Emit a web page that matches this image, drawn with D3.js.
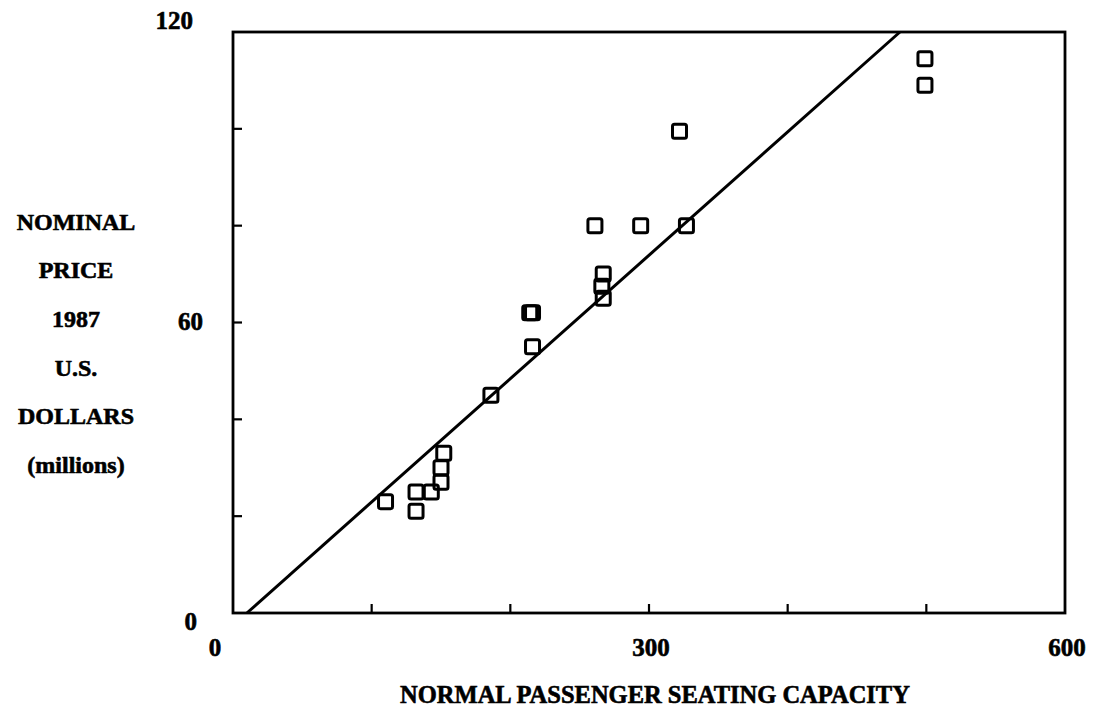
<!DOCTYPE html>
<html>
<head>
<meta charset="utf-8">
<script src="https://cdn.jsdelivr.net/npm/d3@7"></script>
<style>
    body { margin: 0; background: #fff; }
    svg { display: block; }
    text { font-family: "Liberation Serif", "Times New Roman", serif; font-weight: bold; fill: #000; stroke: #000; stroke-width: 0.6px; }
</style>
</head>
<body>
<div id="chart"></div>
<script>
// aircraft: seats vs nominal price (1987 US$ millions)
const seats = [110, 132, 132, 143, 150, 150, 152, 186, 214, 216, 216, 267, 266, 267, 261, 294, 327, 322, 499, 499];
const prices = [23, 21, 25, 25, 27, 30, 33, 45, 62, 62, 55, 65, 67.5, 70, 80, 80, 80, 99.5, 109, 114.5];

// fitted line: price = slope * seats + intercept
const fitSlope = 0.2548;
const fitIntercept = -2.55;

const xTicks = [100, 200, 300, 400, 500];
const yTicks = [20, 40, 60, 80, 100];
const xTickLabels = [0, 300, 600];
const yTickLabels = [0, 60, 120];
const yTitleLines = ["NOMINAL", "PRICE", "1987", "U.S.", "DOLLARS", "(millions)"];
const xTitle = "NORMAL PASSENGER SEATING CAPACITY";

function drawChart() {
    let dimensions = {
        width: 1096,
        height: 713,
        margin: {
            left: 233,
            right: 31,
            top: 32,
            bottom: 100,
        },
    }
    dimensions.boundedWidth = dimensions.width
        - dimensions.margin.left
        - dimensions.margin.right;
    dimensions.boundedHeight = dimensions.height
        - dimensions.margin.top
        - dimensions.margin.bottom;

    const wrapper = d3.select("#chart").append("svg")
        .attr("width", dimensions.width)
        .attr("height", dimensions.height);

    const bounds = wrapper.append("g")
        .attr("transform", `translate(${dimensions.margin.left},${dimensions.margin.top})`);

    const xScaler = d3.scaleLinear()
        .domain([0, 600])
        .range([0, dimensions.boundedWidth]);

    const yScaler = d3.scaleLinear()
        .domain([0, 120])
        .range([dimensions.boundedHeight, 0]);

    // frame
    bounds.append("rect")
        .attr("x", 0)
        .attr("y", 0)
        .attr("width", dimensions.boundedWidth)
        .attr("height", dimensions.boundedHeight)
        .attr("fill", "none")
        .attr("stroke", "black")
        .attr("stroke-width", 2.8);

    // inward ticks
    const tickLen = 9;
    bounds.append("g").selectAll("line")
        .data(xTicks)
        .enter()
        .append("line")
        .attr("x1", d => xScaler(d))
        .attr("x2", d => xScaler(d))
        .attr("y1", dimensions.boundedHeight)
        .attr("y2", dimensions.boundedHeight - tickLen)
        .attr("stroke", "black")
        .attr("stroke-width", 2.2);

    bounds.append("g").selectAll("line")
        .data(yTicks)
        .enter()
        .append("line")
        .attr("x1", 0)
        .attr("x2", tickLen)
        .attr("y1", d => yScaler(d))
        .attr("y2", d => yScaler(d))
        .attr("stroke", "black")
        .attr("stroke-width", 2.2);

    // tick labels
    const fontSize = 25;
    bounds.append("g").selectAll("text")
        .data(xTickLabels)
        .enter()
        .append("text")
        .attr("x", d => xScaler(d) + (d === 0 ? -18 : 2))
        .attr("y", dimensions.boundedHeight + 37)
        .attr("dominant-baseline", "middle")
        .attr("text-anchor", "middle")
        .attr("font-size", fontSize)
        .text(d => d);

    const yLabelShift = {0: 11, 60: 2, 120: -9};
    bounds.append("g").selectAll("text")
        .data(yTickLabels)
        .enter()
        .append("text")
        .attr("x", d => d === 0 ? -36 : (d === 60 ? -30 : -40))
        .attr("y", d => yScaler(d) + yLabelShift[d])
        .attr("dominant-baseline", "middle")
        .attr("text-anchor", "end")
        .attr("font-size", fontSize)
        .text(d => d);

    // fitted line, clipped to the frame
    const xStart = (0 - fitIntercept) / fitSlope;
    const xEnd = (120 - fitIntercept) / fitSlope;
    bounds.append("line")
        .attr("x1", xScaler(xStart))
        .attr("y1", yScaler(0))
        .attr("x2", xScaler(xEnd))
        .attr("y2", yScaler(120))
        .attr("stroke", "black")
        .attr("stroke-width", 3);

    // square markers
    const boxSize = 14;
    bounds.append("g").selectAll("rect")
        .data(d3.range(seats.length))
        .enter()
        .append("rect")
        .attr("x", i => xScaler(seats[i]) - boxSize / 2)
        .attr("y", i => yScaler(prices[i]) - boxSize / 2)
        .attr("width", boxSize)
        .attr("height", boxSize)
        .attr("rx", 2)
        .attr("fill", "none")
        .attr("stroke", "black")
        .attr("stroke-width", 3);

    // axis titles
    wrapper.append("text")
        .attr("x", dimensions.margin.left + dimensions.boundedWidth / 2 + 6)
        .attr("y", 697)
        .attr("dominant-baseline", "middle")
        .attr("text-anchor", "middle")
        .attr("font-size", 24.5)
        .text(xTitle);

    wrapper.append("g").selectAll("text")
        .data(yTitleLines)
        .enter()
        .append("text")
        .attr("x", 76)
        .attr("y", (d, i) => 224 + i * 48.7)
        .attr("dominant-baseline", "middle")
        .attr("text-anchor", "middle")
        .attr("font-size", 24)
        .text(d => d);
}

drawChart();
</script>
</body>
</html>
